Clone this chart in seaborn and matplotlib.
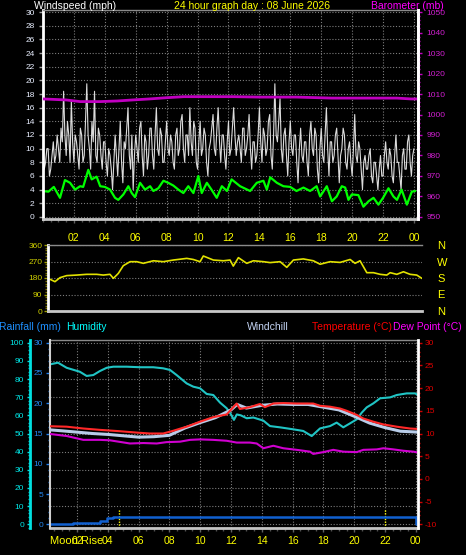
import matplotlib
matplotlib.use("Agg")
import matplotlib.pyplot as plt
from matplotlib.ticker import MultipleLocator
import numpy as np
import pandas as pd
import seaborn as sns

# ------------------------------------------------------------------ data
hour_ticks = [2, 4, 6, 8, 10, 12, 14, 16, 18, 20, 22, 24]
hour_labels = ["02", "04", "06", "08", "10", "12", "14", "16", "18", "20", "22", "00"]

# wind gust (mph), one reading every 5 minutes from 00:00
gust_mph = [
    9, 7, 8, 10, 10, 6, 7, 9, 11, 8, 9, 12,
    10, 8, 13, 11, 18.4, 12, 9, 14, 12, 8, 17, 11,
    8, 12, 11, 9, 7, 13, 12, 8, 9, 14, 19.5, 12,
    10, 7, 14, 11, 18.4, 9, 8, 13, 12, 9, 7, 11,
    11, 8, 6, 10, 9, 7, 4, 8, 12, 9, 6, 10,
    14, 8, 5, 11, 10, 13, 16, 9, 7, 12, 4, 9,
    12, 10, 8, 13, 14, 9, 6, 12, 11, 7, 9, 13,
    13, 9, 7, 12, 16, 10, 9, 13, 12, 8, 8, 11,
    14, 10, 9, 12, 11, 8, 7, 12, 13, 9, 10, 14,
    15, 10, 8, 12, 12, 9, 16, 11, 9, 14, 13, 8,
    7, 11, 14, 9, 10, 13, 12, 8, 6, 10, 11, 13,
    15, 10, 9, 13, 16, 11, 8, 12, 12, 9, 7, 11,
    14, 9, 10, 13, 16, 12, 9, 11, 12, 10, 8, 13,
    13, 9, 10, 12, 15, 10, 7, 11, 11, 8, 9, 12,
    16, 11, 8, 13, 12, 9, 10, 14, 15, 9, 7, 12,
    19.5, 12, 11, 14, 17.3, 10, 8, 12, 13, 9, 6, 11,
    14, 10, 9, 12, 12, 8, 5, 10, 13, 9, 8, 11,
    11, 8, 6, 12, 14, 10, 9, 13, 12, 7, 5, 10,
    13, 9, 8, 12, 16, 10, 6, 11, 11, 8, 9, 12,
    13, 9, 5, 9, 10, 13, 12, 8, 7, 10, 11, 8,
    6, 10, 15, 9, 8, 11, 10, 7, 4, 8, 9, 7,
    7, 9, 10, 6, 5, 8, 8, 6, 4, 7, 9, 6,
    6, 9, 11, 8, 7, 10, 9, 6, 5, 9, 12, 8,
    8, 6, 4, 9, 10, 7, 7, 11, 12, 8, 6, 9,
    10,
]
gust_hours = list(np.linspace(0, 24, len(gust_mph)))

wind_hours = [0.0, 0.35, 0.7, 1.1, 1.42, 1.75, 2.07, 2.4, 2.6, 2.93, 3.15, 3.47, 3.7, 4.0, 4.34,
              4.66, 4.87, 5.2, 5.52, 5.74, 5.95, 6.28, 6.6, 6.93, 7.14, 7.46, 7.79, 8.1, 8.43,
              8.76, 9.08, 9.4, 9.73, 10.05, 10.27, 10.6, 10.9, 11.24, 11.57, 11.9, 12.2, 12.75,
              13.4, 13.83, 14.26, 14.48, 14.7, 15.13, 15.55, 15.99, 16.4, 16.85, 17.28, 17.7,
              17.93, 18.36, 18.69, 19.0, 19.33, 19.55, 19.76, 19.98, 20.4, 20.73, 21.06, 21.38,
              21.7, 22.0, 22.35, 22.67, 22.9, 23.2, 23.54, 23.86, 24.08]
wind_avg = [3.8, 3.7, 4.4, 2.8, 5.4, 5.0, 4.0, 4.5, 4.4, 6.9, 5.5, 5.9, 4.5, 4.4, 4.0,
            2.8, 2.5, 3.3, 4.5, 3.5, 2.9, 5.0, 4.0, 4.5, 3.8, 4.2, 5.3, 5.0, 4.6,
            4.0, 3.5, 4.5, 3.5, 6.0, 3.5, 5.0, 4.0, 2.8, 4.5, 3.8, 5.5, 4.5,
            3.8, 5.0, 5.3, 4.0, 5.8, 5.0, 4.5, 4.4, 3.8, 4.3, 3.8, 4.5,
            3.0, 4.5, 2.3, 3.0, 4.5, 4.3, 2.5, 3.3, 3.2, 1.5, 2.3, 2.8,
            1.8, 2.8, 4.2, 3.0, 2.5, 4.0, 1.8, 3.7, 3.8]

baro_hours = [0, 1.5, 2.4, 3.7, 4.8, 5.8, 6.9, 8.0, 9.1, 10.2, 12.3, 14, 16.4, 18.7, 20.8, 22.9, 23.8, 24.2]
baro_mb = [1007.6, 1007.1, 1006.3, 1006.3, 1006.6, 1007.1, 1007.6, 1008.2, 1008.7, 1008.7,
           1008.7, 1008.5, 1008.5, 1008.0, 1008.0, 1008.0, 1007.6, 1007.6]
wind_ticks = list(range(0, 31, 2))
baro_ticks = list(range(950, 1051, 10))

dir_hours = [0.13, 0.45, 0.78, 1.21, 1.86, 2.5, 3.15, 3.58, 4.01, 4.23, 4.55, 4.87, 5.31, 5.74,
             6.17, 6.82, 7.46, 8.11, 8.98, 9.4, 9.84, 10.05, 10.7, 11.35, 11.78, 11.99, 12.32,
             12.86, 13.29, 13.94, 14.37, 15.02, 15.45, 15.88, 16.52, 17.17, 17.61, 18.25, 18.9,
             19.55, 19.87, 20.19, 20.63, 21.06, 21.49, 21.92, 22.14, 22.57, 23.0, 23.43, 23.86, 24.19]
dir_deg = [173, 160, 182, 193, 196, 200, 200, 196, 200, 178, 205, 247, 269, 269,
           260, 274, 269, 278, 287, 281, 269, 300, 278, 274, 278, 245, 291,
           260, 274, 269, 264, 269, 238, 278, 284, 274, 255, 269, 265,
           281, 260, 274, 209, 209, 200, 196, 209, 200, 214, 200, 196, 178]
dir_ticks = [0, 90, 180, 270, 360]
compass = ["N", "E", "S", "W", "N"]

hum_hours = [0.25, 0.77, 1.33, 2.19, 2.63, 3.06, 3.49, 3.93, 4.36, 5.23, 6.09, 6.95, 7.6, 8.04, 8.47,
             9.12, 9.55, 9.99, 10.42, 10.85, 11.29, 11.72, 12.0, 12.19, 12.38, 12.64, 13.02, 13.45,
             14.1, 14.53, 15.18, 16.05, 16.69, 17.24, 17.78, 18.43, 18.86, 19.29, 19.73, 20.16,
             20.49, 20.81, 21.24, 21.68, 22.33, 22.76, 23.41, 23.95, 24.14]
humidity = [88.1, 89, 86.2, 84, 81.7, 82.2, 84.4, 86.2, 86.8, 86.8, 86.5, 86.5, 85.9, 85, 82.2,
            77.6, 75.8, 74.9, 71.8, 71.2, 67, 63.9, 60.5, 57.5, 60.5, 60.0, 58.4, 58.8,
            57.1, 54.1, 53.4, 52.3, 51.4, 48.6, 52.8, 54.1, 56, 53.4, 55.6, 57.8,
            61.5, 64.4, 66.6, 69.4, 69.9, 71.2, 72.1, 72.1, 71.2]

temp_hours = [0.25, 1.33, 2.41, 3.49, 4.79, 5.88, 6.74, 7.6, 8.25, 9.12, 9.99, 10.85, 11.72, 12.15,
              12.37, 12.58, 13.23, 13.88, 14.2, 14.75, 15.4, 16.27, 17.34, 17.78, 18.43, 19.08,
              19.51, 20.16, 20.59, 21.24, 21.89, 22.76, 23.62, 24.14]
temperature = [11.6, 11.5, 11.1, 10.8, 10.5, 10.2, 10.0, 10.0, 10.6, 11.5, 12.6, 13.6, 14.2, 15.8,
               16.6, 15.4, 15.8, 16.5, 15.8, 16.6, 16.7, 16.6, 16.6, 16.1, 15.9, 15.5,
               15.0, 14.1, 13.3, 12.6, 12.0, 11.5, 11.1, 11.0]

chill_hours = [0.25, 1, 2, 3, 4, 5, 6, 7, 8, 9, 10, 11, 12, 12.4, 13, 14, 15, 16, 17, 18, 19, 20,
               21, 22, 23, 24.14]
windchill = [10.8, 10.6, 10.3, 10.0, 9.8, 9.5, 9.2, 9.3, 9.6, 11.2, 12.4, 13.5, 15.2, 16.4, 15.6,
             16.2, 16.5, 16.4, 16.4, 15.8, 15.2, 13.8, 12.3, 11.3, 10.5, 10.3]

dew_hours = [0.25, 1.33, 2.41, 3.49, 4.14, 5.44, 6.31, 7.18, 7.82, 8.69, 9.34, 9.99, 10.85, 11.72,
             12.37, 13.23, 13.67, 14.1, 14.75, 15.4, 16.27, 17.13, 17.34, 17.99, 18.64, 19.29,
             20.16, 20.59, 21.46, 21.89, 22.54, 23.19, 23.84, 24.16]
dewpoint = [9.9, 9.45, 8.6, 8.6, 8.5, 7.8, 7.9, 7.8, 8.1, 8.2, 8.6, 8.7, 8.6, 8.4,
            8.0, 8.0, 7.8, 6.75, 7.3, 6.75, 6.4, 6.0, 5.5, 5.9, 6.4, 6.0,
            5.9, 6.4, 6.5, 6.75, 6.5, 6.2, 6.0, 5.8]

rain_hours = [0.25, 1.76, 3.49, 3.93, 4.36, 24.0, 24.14]
rain_mm = [0, 0.2, 0.6, 1.0, 1.2, 0, 0]

sun_hours = [4.73, 22.0]

hum_ticks = list(range(0, 101, 10))
rain_ticks = list(range(0, 31, 5))
temp_ticks = list(range(-10, 31, 5))

# ------------------------------------------------------------------ style
sns.set_theme(style="dark", rc={"axes.facecolor": "black", "figure.facecolor": "black"})
plt.rcParams["font.family"] = ["Liberation Sans", "DejaVu Sans"]

W, H = 466, 555
fig = plt.figure(figsize=(W / 100, H / 100), dpi=100)
fig.patch.set_facecolor("black")


def box(l, t, r, b):
    return [l / W, 1 - b / H, (r - l) / W, (b - t) / H]


GRID = dict(color="#7c7c7c", linestyle=(0, (1, 1.6)), linewidth=0.8)


def only_spines(ax, **spec):
    for name, sp in ax.spines.items():
        if name in spec:
            c, lw = spec[name]
            sp.set_visible(True)
            sp.set_color(c)
            sp.set_linewidth(lw)
        else:
            sp.set_visible(False)


def clear_labels(ax):
    ax.set_xlabel("")
    ax.set_ylabel("")


# ------------------------------------------------------------------ wind panel
ax_w = fig.add_axes(box(43, 10, 418, 219))
ax_w.set_facecolor("black")
sns.lineplot(data=pd.DataFrame({"hour": gust_hours, "mph": gust_mph}), x="hour", y="mph",
             ax=ax_w, color="#dcdcdc", linewidth=0.8)
sns.lineplot(data=pd.DataFrame({"hour": wind_hours, "mph": wind_avg}), x="hour", y="mph",
             ax=ax_w, color="#00ff00", linewidth=1.6)
ax_w.set_xlim(0, 24.26)
ax_w.set_ylim(-0.3, 30.3)
ax_w.set_yticks(wind_ticks)
ax_w.set_yticklabels([str(v) for v in wind_ticks])
ax_w.set_xticks(hour_ticks)
ax_w.set_xticklabels(hour_labels)
ax_w.xaxis.set_minor_locator(MultipleLocator(0.5))
ax_w.grid(True, which="major", **GRID)
ax_w.tick_params(axis="y", which="major", left=True, length=3, width=1, color="#a0a0a0",
                 labelcolor="#e8eeff", labelsize=6, pad=3)
ax_w.tick_params(axis="x", which="major", bottom=True, length=3, width=1, color="#606060",
                 labelcolor="#ffff00", labelsize=7.5, pad=7)
ax_w.tick_params(axis="x", which="minor", bottom=True, length=2, width=1, color="#505050")
only_spines(ax_w, left=("white", 2), bottom=("#c4c4c4", 2), top=("#8a8a8a", 1), right=("white", 2))
clear_labels(ax_w)

ax_p = ax_w.twinx()
sns.lineplot(data=pd.DataFrame({"hour": baro_hours, "mb": baro_mb}), x="hour", y="mb",
             ax=ax_p, color="#c000c0", linewidth=2)
ax_p.set_ylim(949, 1051)
ax_p.set_yticks(baro_ticks)
ax_p.set_yticklabels([str(v) for v in baro_ticks])
ax_p.yaxis.set_minor_locator(MultipleLocator(2))
ax_p.tick_params(axis="y", which="major", right=True, length=3, width=1, color="#c000c0",
                 labelcolor="#d020d0", labelsize=6, pad=3)
ax_p.tick_params(axis="y", which="minor", right=True, length=1.5, width=1, color="#c000c0")
only_spines(ax_p, right=("white", 2))
clear_labels(ax_p)

# ------------------------------------------------------------------ direction panel
ax_d = fig.add_axes(box(48, 245, 422, 311))
ax_d.set_facecolor("black")
sns.lineplot(data=pd.DataFrame({"hour": dir_hours, "deg": dir_deg}), x="hour", y="deg",
             ax=ax_d, color="#e2e200", linewidth=1.2)
ax_d.set_xlim(0, 24.2)
ax_d.set_ylim(0, 360)
ax_d.set_xticks([])
ax_d.set_yticks(dir_ticks)
ax_d.set_yticklabels([str(v) for v in dir_ticks])
ax_d.yaxis.set_minor_locator(MultipleLocator(15))
ax_d.grid(True, axis="y", which="major", **GRID)
ax_d.tick_params(axis="y", which="major", left=True, length=3, width=1, color="#a0a000",
                 labelcolor="#d0d000", labelsize=6, pad=1)
ax_d.tick_params(axis="y", which="minor", left=True, length=2, width=1, color="#807800")
only_spines(ax_d, left=("white", 2), top=("#8a8a8a", 1), bottom=("#c8c8c8", 2))
clear_labels(ax_d)

ax_dc = ax_d.twinx()
ax_dc.set_ylim(0, 360)
ax_dc.set_yticks(dir_ticks)
ax_dc.set_yticklabels(compass)
ax_dc.tick_params(axis="y", right=True, length=0, labelcolor="#ffff00", labelsize=8, pad=11)
only_spines(ax_dc)

# ------------------------------------------------------------------ humidity / temperature panel
ax_b = fig.add_axes(box(50, 340, 418, 528))
ax_b.set_facecolor("black")
sns.lineplot(data=pd.DataFrame({"hour": hum_hours, "pct": humidity}), x="hour", y="pct",
             ax=ax_b, color="#20c4c4", linewidth=1.5)
ax_b.set_xlim(0.25, 24.14)
ax_b.set_ylim(-2.04, 101.5)
ax_b.set_yticks(hum_ticks)
ax_b.set_yticklabels([str(v) for v in hum_ticks])
ax_b.yaxis.set_minor_locator(MultipleLocator(2))
ax_b.set_xticks(hour_ticks)
ax_b.set_xticklabels(hour_labels)
ax_b.xaxis.set_minor_locator(MultipleLocator(0.5))
ax_b.grid(True, which="major", **GRID)
for h in sun_hours:
    ax_b.axvline(h, ymin=0, ymax=0.1, color="#ffff00", linestyle=(0, (1, 1)), linewidth=1)
ax_b.tick_params(axis="y", which="major", left=True, length=2.5, width=1, color="#00e0e0",
                 labelcolor="#00e8e8", labelsize=6, pad=1.5)
ax_b.tick_params(axis="y", which="minor", left=True, length=1.5, width=1, color="#00c0c0")
ax_b.tick_params(axis="x", which="major", bottom=True, length=3, width=1, color="#606060",
                 labelcolor="#ffff00", labelsize=7.5, pad=3)
ax_b.tick_params(axis="x", which="minor", bottom=True, length=2, width=1, color="#505050")
only_spines(ax_b, left=("#00e0e0", 2), bottom=("#c4c4c4", 2), top=("#8a8a8a", 1))
ax_b.spines["left"].set_position(("axes", (29.5 - 50) / 368))
clear_labels(ax_b)

ax_r = ax_b.twinx()
ax_r.yaxis.tick_left()
sns.lineplot(data=pd.DataFrame({"hour": rain_hours, "mm": rain_mm}), x="hour", y="mm",
             ax=ax_r, color="#1060d0", linewidth=1.8, drawstyle="steps-post")
ax_r.set_ylim(-0.611, 30.446)
ax_r.set_yticks(rain_ticks)
ax_r.set_yticklabels([str(v) for v in rain_ticks])
ax_r.yaxis.set_minor_locator(MultipleLocator(1))
ax_r.tick_params(axis="y", which="major", left=True, right=False, length=3, width=1,
                 color="#2080f0", labelcolor="#2488f0", labelsize=6, pad=2)
ax_r.tick_params(axis="y", which="minor", left=True, right=False, length=1.5, width=1,
                 color="#2070d0")
only_spines(ax_r, left=("#d0d0d0", 1.5))
clear_labels(ax_r)

ax_T = ax_b.twinx()
sns.lineplot(data=pd.DataFrame({"hour": chill_hours, "c": windchill}), x="hour", y="c",
             ax=ax_T, color="#b8cce8", linewidth=2.2)
sns.lineplot(data=pd.DataFrame({"hour": temp_hours, "c": temperature}), x="hour", y="c",
             ax=ax_T, color="#ff2828", linewidth=1.5)
sns.lineplot(data=pd.DataFrame({"hour": dew_hours, "c": dewpoint}), x="hour", y="c",
             ax=ax_T, color="#d000d0", linewidth=1.5)
ax_T.set_ylim(-10.815, 30.595)
ax_T.set_yticks(temp_ticks)
ax_T.set_yticklabels([str(v) for v in temp_ticks])
ax_T.yaxis.set_minor_locator(MultipleLocator(1))
ax_T.tick_params(axis="y", which="major", right=True, length=3, width=1, color="#cc0000",
                 labelcolor="#e00000", labelsize=6, pad=2)
ax_T.tick_params(axis="y", which="minor", right=True, length=1.5, width=1, color="#cc0000")
only_spines(ax_T, right=("white", 2))
clear_labels(ax_T)

# ------------------------------------------------------------------ titles
fs = 7.5
fig.text(75 / W, 1 - 6 / H, "Windspeed (mph)", color="white", fontsize=fs, ha="center", va="center")
fig.text(252 / W, 1 - 6 / H, "24 hour graph day : 08 June 2026", color="#ffff00", fontsize=fs,
         ha="center", va="center")
fig.text(407 / W, 1 - 6 / H, "Barometer (mb)", color="#ff00ff", fontsize=fs, ha="center", va="center")

fig.text(30 / W, 1 - 327 / H, "Rainfall (mm)", color="#1e90ff", fontsize=fs, ha="center", va="center")
fig.text(86 / W, 1 - 327 / H, "Humidity", color="#00ffff", fontsize=fs, ha="center", va="center")
fig.text(268 / W, 1 - 327 / H, "Windchill", color="#c4d4f4", fontsize=fs, ha="center", va="center")
fig.text(352 / W, 1 - 327 / H, "Temperature (°C)", color="#ff0000", fontsize=fs, ha="center", va="center")
fig.text(427 / W, 1 - 327 / H, "Dew Point (°C)", color="#ff00ff", fontsize=fs, ha="center", va="center")

fig.text(50 / W, 1 - 541 / H, "Moon Rise", color="#ffff00", fontsize=8, ha="left", va="center")

fig.savefig("out.png", dpi=100, facecolor="black")
